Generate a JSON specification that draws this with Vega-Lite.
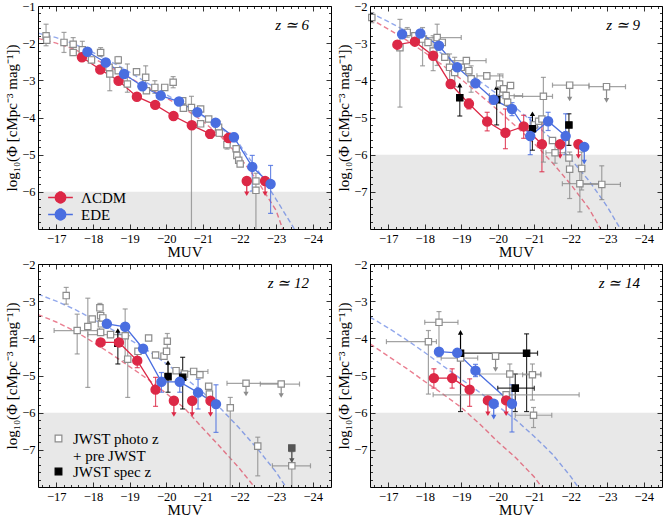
{
"$schema":"https://vega.github.io/schema/vega-lite/v6.json",
"padding":{"left":4,"top":0,"right":0,"bottom":0},
"background":"white",
"datasets":{"d":[
{"p":6,"t":"sh","M":-16.5,"Mhi":-24.5,"v":-6,"vlo":-7},
{"p":6,"t":"f","k":"R","M":-16.5,"v":-1.87},{"p":6,"t":"f","k":"R","M":-17,"v":-2.0},{"p":6,"t":"f","k":"R","M":-17.5,"v":-2.17},{"p":6,"t":"f","k":"R","M":-18,"v":-2.4},{"p":6,"t":"f","k":"R","M":-18.5,"v":-2.66},{"p":6,"t":"f","k":"R","M":-19,"v":-2.93},{"p":6,"t":"f","k":"R","M":-19.5,"v":-3.2},{"p":6,"t":"f","k":"R","M":-20,"v":-3.47},{"p":6,"t":"f","k":"R","M":-20.5,"v":-3.76},{"p":6,"t":"f","k":"R","M":-21,"v":-4.1},{"p":6,"t":"f","k":"R","M":-21.5,"v":-4.52},{"p":6,"t":"f","k":"R","M":-22,"v":-5.05},{"p":6,"t":"f","k":"R","M":-22.5,"v":-5.72},{"p":6,"t":"f","k":"R","M":-23,"v":-6.5},{"p":6,"t":"f","k":"R","M":-23.18,"v":-7.0},
{"p":6,"t":"f","k":"B","M":-16.5,"v":-1.73},{"p":6,"t":"f","k":"B","M":-17,"v":-1.85},{"p":6,"t":"f","k":"B","M":-17.5,"v":-2.03},{"p":6,"t":"f","k":"B","M":-18,"v":-2.25},{"p":6,"t":"f","k":"B","M":-18.5,"v":-2.5},{"p":6,"t":"f","k":"B","M":-19,"v":-2.78},{"p":6,"t":"f","k":"B","M":-19.5,"v":-3.08},{"p":6,"t":"f","k":"B","M":-20,"v":-3.38},{"p":6,"t":"f","k":"B","M":-20.5,"v":-3.67},{"p":6,"t":"f","k":"B","M":-21,"v":-3.96},{"p":6,"t":"f","k":"B","M":-21.5,"v":-4.28},{"p":6,"t":"f","k":"B","M":-22,"v":-4.72},{"p":6,"t":"f","k":"B","M":-22.5,"v":-5.42},{"p":6,"t":"f","k":"B","M":-23,"v":-6.2},{"p":6,"t":"f","k":"B","M":-23.5,"v":-7.0},
{"p":6,"t":"p","k":"g","M":-16.72,"v":-1.8,"vlo":-2.07,"vhi":-1.49},
{"p":6,"t":"p","k":"g","M":-16.74,"v":-1.92},
{"p":6,"t":"p","k":"g","M":-17.21,"v":-1.98,"vlo":-2.25,"vhi":-1.71},
{"p":6,"t":"p","k":"g","M":-17.46,"v":-2.03,"vlo":-2.2,"vhi":-1.85},
{"p":6,"t":"p","k":"g","M":-17.46,"v":-2.25},
{"p":6,"t":"p","k":"g","M":-17.71,"v":-2.18,"vlo":-2.4,"vhi":-1.95},
{"p":6,"t":"p","k":"g","M":-17.96,"v":-2.45},
{"p":6,"t":"p","k":"g","M":-18.21,"v":-2.25,"vlo":-2.35,"vhi":-2.12},
{"p":6,"t":"p","k":"g","M":-18.44,"v":-2.65},
{"p":6,"t":"p","k":"g","M":-18.46,"v":-2.83,"vlo":-3.28,"vhi":-2.61},
{"p":6,"t":"p","k":"g","M":-18.69,"v":-2.45,"vlo":-2.55,"vhi":-2.36},
{"p":6,"t":"p","k":"g","M":-18.69,"v":-2.74},
{"p":6,"t":"p","k":"g","M":-18.94,"v":-3.1,"vlo":-3.32,"vhi":-2.56},
{"p":6,"t":"p","k":"g","M":-19.19,"v":-2.77},
{"p":6,"t":"p","k":"g","M":-19.44,"v":-2.92,"vlo":-3.28,"vhi":-2.61},
{"p":6,"t":"p","k":"g","M":-19.46,"v":-3.28},
{"p":6,"t":"p","k":"g","M":-19.69,"v":-3.19,"vlo":-3.35,"vhi":-3.01},
{"p":6,"t":"p","k":"g","M":-19.96,"v":-3.19},
{"p":6,"t":"p","k":"g","M":-20.19,"v":-3.05,"vlo":-3.2,"vhi":-2.9},
{"p":6,"t":"p","k":"g","M":-20.45,"v":-3.55},
{"p":6,"t":"p","k":"g","M":-20.47,"v":-3.75},
{"p":6,"t":"p","k":"g","M":-20.69,"v":-3.73,"vlo":-9,"vhi":-3.43},
{"p":6,"t":"p","k":"g","M":-20.94,"v":-3.77},
{"p":6,"t":"p","k":"g","M":-20.94,"v":-4.17},
{"p":6,"t":"p","k":"g","M":-21.16,"v":-4.04},
{"p":6,"t":"p","k":"g","M":-21.43,"v":-4.26,"vlo":-4.5,"vhi":-4.1},
{"p":6,"t":"p","k":"g","M":-21.45,"v":-4.42},
{"p":6,"t":"p","k":"g","M":-21.66,"v":-4.73,"vlo":-4.85,"vhi":-4.6},
{"p":6,"t":"p","k":"g","M":-21.91,"v":-4.84},
{"p":6,"t":"p","k":"g","M":-21.93,"v":-5.02},
{"p":6,"t":"p","k":"g","M":-21.98,"v":-5.15},
{"p":6,"t":"p","k":"g","M":-22.02,"v":-5.25},
{"p":6,"t":"p","k":"g","M":-22.45,"v":-5.71,"vlo":-9,"vhi":-5.5},
{"p":6,"t":"p","k":"g","M":-22.45,"v":-5.96},
{"p":6,"t":"p","k":"R","M":-17.7,"v":-2.38,"vlo":-2.45,"vhi":-2.31},
{"p":6,"t":"p","k":"R","M":-18.2,"v":-2.71,"vlo":-2.78,"vhi":-2.64},
{"p":6,"t":"p","k":"R","M":-18.7,"v":-3.01,"vlo":-3.08,"vhi":-2.94},
{"p":6,"t":"p","k":"R","M":-19.2,"v":-3.44,"vlo":-3.51,"vhi":-3.37},
{"p":6,"t":"p","k":"R","M":-19.7,"v":-3.66,"vlo":-3.74,"vhi":-3.58},
{"p":6,"t":"p","k":"R","M":-20.2,"v":-3.96,"vlo":-4.04,"vhi":-3.88},
{"p":6,"t":"p","k":"R","M":-20.7,"v":-4.21,"vlo":-4.3,"vhi":-4.12},
{"p":6,"t":"p","k":"R","M":-21.2,"v":-4.44,"vlo":-4.56,"vhi":-4.33},
{"p":6,"t":"p","k":"R","M":-21.7,"v":-4.55,"vlo":-4.7,"vhi":-4.42},
{"p":6,"t":"p","k":"R","M":-22.2,"v":-5.71,"lim":"u","ae":-6.05},
{"p":6,"t":"p","k":"R","M":-22.7,"v":-5.71,"lim":"u","ae":-6.05},
{"p":6,"t":"p","k":"B","M":-17.85,"v":-2.23,"vlo":-2.3,"vhi":-2.16},
{"p":6,"t":"p","k":"B","M":-18.35,"v":-2.52,"vlo":-2.59,"vhi":-2.45},
{"p":6,"t":"p","k":"B","M":-18.85,"v":-2.83,"vlo":-2.9,"vhi":-2.76},
{"p":6,"t":"p","k":"B","M":-19.35,"v":-3.16,"vlo":-3.23,"vhi":-3.09},
{"p":6,"t":"p","k":"B","M":-19.85,"v":-3.41,"vlo":-3.48,"vhi":-3.34},
{"p":6,"t":"p","k":"B","M":-20.35,"v":-3.57,"vlo":-3.64,"vhi":-3.5},
{"p":6,"t":"p","k":"B","M":-20.85,"v":-3.86,"vlo":-3.93,"vhi":-3.79},
{"p":6,"t":"p","k":"B","M":-21.35,"v":-4.14,"vlo":-4.22,"vhi":-4.06},
{"p":6,"t":"p","k":"B","M":-21.85,"v":-4.53,"vlo":-4.65,"vhi":-4.42},
{"p":6,"t":"p","k":"B","M":-22.35,"v":-5.33,"vlo":-5.98,"vhi":-5.02},
{"p":6,"t":"p","k":"B","M":-22.85,"v":-5.79,"vlo":-6.58,"vhi":-5.29},

{"p":9,"t":"sh","M":-16.5,"Mhi":-24.5,"v":-6,"vlo":-8},
{"p":9,"t":"f","k":"R","M":-16.5,"v":-2.34},{"p":9,"t":"f","k":"R","M":-17,"v":-2.62},{"p":9,"t":"f","k":"R","M":-17.5,"v":-2.92},{"p":9,"t":"f","k":"R","M":-18,"v":-3.25},{"p":9,"t":"f","k":"R","M":-18.5,"v":-3.6},{"p":9,"t":"f","k":"R","M":-19,"v":-3.97},{"p":9,"t":"f","k":"R","M":-19.5,"v":-4.38},{"p":9,"t":"f","k":"R","M":-20,"v":-4.8},{"p":9,"t":"f","k":"R","M":-20.5,"v":-5.24},{"p":9,"t":"f","k":"R","M":-21,"v":-5.7},{"p":9,"t":"f","k":"R","M":-21.5,"v":-6.22},{"p":9,"t":"f","k":"R","M":-22,"v":-6.8},{"p":9,"t":"f","k":"R","M":-22.5,"v":-7.45},{"p":9,"t":"f","k":"R","M":-22.82,"v":-8.0},
{"p":9,"t":"f","k":"B","M":-16.5,"v":-2.18},{"p":9,"t":"f","k":"B","M":-17,"v":-2.42},{"p":9,"t":"f","k":"B","M":-17.5,"v":-2.68},{"p":9,"t":"f","k":"B","M":-18,"v":-2.98},{"p":9,"t":"f","k":"B","M":-18.5,"v":-3.3},{"p":9,"t":"f","k":"B","M":-19,"v":-3.65},{"p":9,"t":"f","k":"B","M":-19.5,"v":-4.02},{"p":9,"t":"f","k":"B","M":-20,"v":-4.38},{"p":9,"t":"f","k":"B","M":-20.5,"v":-4.75},{"p":9,"t":"f","k":"B","M":-21,"v":-5.15},{"p":9,"t":"f","k":"B","M":-21.5,"v":-5.6},{"p":9,"t":"f","k":"B","M":-22,"v":-6.12},{"p":9,"t":"f","k":"B","M":-22.5,"v":-6.7},{"p":9,"t":"f","k":"B","M":-23,"v":-7.4},{"p":9,"t":"f","k":"B","M":-23.36,"v":-8.0},
{"p":9,"t":"p","k":"g","M":-16.55,"v":-2.31,"vlo":-2.45,"vhi":-2.18},
{"p":9,"t":"p","k":"g","M":-17.32,"v":-3.12,"vlo":-4.72,"vhi":-2.36},
{"p":9,"t":"p","k":"g","M":-17.52,"v":-2.71,"vlo":-2.84,"vhi":-2.58},
{"p":9,"t":"p","k":"g","M":-17.73,"v":-2.8},
{"p":9,"t":"p","k":"g","M":-17.94,"v":-2.89,"vlo":-3.61,"vhi":-2.58},
{"p":9,"t":"p","k":"g","M":-18.09,"v":-2.98},
{"p":9,"t":"p","k":"g","M":-18.23,"v":-3.21,"vlo":-3.74,"vhi":-2.8},
{"p":9,"t":"p","k":"g","M":-18.34,"v":-2.85,"vlo":-3.6,"vhi":-2.49,"Mlo":-18.05,"Mhi":-19.0},
{"p":9,"t":"p","k":"g","M":-18.48,"v":-2.98},
{"p":9,"t":"p","k":"g","M":-18.55,"v":-3.38},
{"p":9,"t":"p","k":"g","M":-18.68,"v":-3.65,"vlo":-4.03,"vhi":-3.29},
{"p":9,"t":"p","k":"g","M":-18.82,"v":-3.79,"vlo":-4.17,"vhi":-3.38},
{"p":9,"t":"p","k":"g","M":-19.0,"v":-3.65},
{"p":9,"t":"p","k":"g","M":-19.14,"v":-3.47,"Mlo":-18.68,"Mhi":-19.68},
{"p":9,"t":"p","k":"g","M":-19.21,"v":-3.74},
{"p":9,"t":"p","k":"g","M":-19.27,"v":-3.96,"vlo":-4.32,"vhi":-3.61},
{"p":9,"t":"p","k":"g","M":-19.7,"v":-3.88,"Mlo":-19.43,"Mhi":-20.14},
{"p":9,"t":"p","k":"g","M":-20.05,"v":-4.1,"vlo":-4.41,"vhi":-3.83},
{"p":9,"t":"p","k":"g","M":-20.16,"v":-4.23},
{"p":9,"t":"p","k":"g","M":-20.23,"v":-4.41,"Mlo":-19.77,"Mhi":-20.68},
{"p":9,"t":"p","k":"g","M":-20.27,"v":-4.59},
{"p":9,"t":"p","k":"g","M":-20.35,"v":-4.14},
{"p":9,"t":"p","k":"g","M":-21.25,"v":-4.43,"vlo":-6.2,"vhi":-3.92,"Mlo":-20.45,"Mhi":-21.5},
{"p":9,"t":"p","k":"g","M":-21.0,"v":-5.2},
{"p":9,"t":"p","k":"g","M":-21.12,"v":-5.1},
{"p":9,"t":"p","k":"g","M":-21.21,"v":-5.04},
{"p":9,"t":"p","k":"g","M":-21.5,"v":-5.62},
{"p":9,"t":"p","k":"g","M":-21.57,"v":-5.95,"vlo":-6.23,"vhi":-5.66,"Mlo":-21.32,"Mhi":-21.86},
{"p":9,"t":"p","k":"g","M":-21.95,"v":-6.09},
{"p":9,"t":"p","k":"g","M":-21.97,"v":-6.39,"vlo":-7.18,"vhi":-5.93},
{"p":9,"t":"p","k":"g","M":-22.25,"v":-6.78,"vlo":-7.54,"vhi":-6.29,"Mlo":-21.77,"Mhi":-22.86},
{"p":9,"t":"p","k":"g","M":-22.3,"v":-6.37,"vlo":-6.95,"vhi":-5.93},
{"p":9,"t":"p","k":"g","M":-22.85,"v":-6.8,"vlo":-7.21,"vhi":-6.3,"Mlo":-22.27,"Mhi":-23.36},
{"p":9,"t":"p","k":"g","M":-21.97,"v":-4.13,"Mlo":-21.5,"Mhi":-22.5,"lim":"u","ae":-4.5},
{"p":9,"t":"p","k":"g","M":-22.98,"v":-4.17,"Mlo":-22.5,"Mhi":-23.5,"lim":"u","ae":-4.54},
{"p":9,"t":"p","k":"s","M":-18.96,"v":-4.47,"vlo":-4.96,"vhi":-4.47,"lim":"l","ae":-4.13},
{"p":9,"t":"p","k":"s","M":-19.97,"v":-4.52,"vlo":-5.2,"vhi":-4.52,"lim":"l","ae":-4.19},
{"p":9,"t":"p","k":"s","M":-20.95,"v":-5.3,"vlo":-5.88,"vhi":-5.3,"lim":"l","ae":-4.9},
{"p":9,"t":"p","k":"s","M":-21.95,"v":-5.2,"vlo":-5.75,"vhi":-4.9},
{"p":9,"t":"p","k":"R","M":-17.25,"v":-3.04,"vlo":-3.14,"vhi":-2.94},
{"p":9,"t":"p","k":"R","M":-17.73,"v":-2.96,"vlo":-3.04,"vhi":-2.88},
{"p":9,"t":"p","k":"R","M":-18.23,"v":-3.34,"vlo":-3.44,"vhi":-3.24},
{"p":9,"t":"p","k":"R","M":-18.71,"v":-4.1,"vlo":-4.18,"vhi":-4.02},
{"p":9,"t":"p","k":"R","M":-19.21,"v":-4.63,"vlo":-4.77,"vhi":-4.5},
{"p":9,"t":"p","k":"R","M":-19.71,"v":-5.11,"vlo":-5.36,"vhi":-4.86},
{"p":9,"t":"p","k":"R","M":-20.21,"v":-5.41,"vlo":-5.84,"vhi":-4.77},
{"p":9,"t":"p","k":"R","M":-20.71,"v":-5.24,"vlo":-5.56,"vhi":-4.94},
{"p":9,"t":"p","k":"R","M":-21.21,"v":-5.72,"vlo":-6.46,"vhi":-5.04},
{"p":9,"t":"p","k":"R","M":-21.71,"v":-5.72,"lim":"u","ae":-6.05},
{"p":9,"t":"p","k":"R","M":-22.21,"v":-5.72,"lim":"u","ae":-6.05},
{"p":9,"t":"p","k":"B","M":-17.38,"v":-2.76,"vlo":-2.83,"vhi":-2.69},
{"p":9,"t":"p","k":"B","M":-17.88,"v":-2.74,"vlo":-2.81,"vhi":-2.67},
{"p":9,"t":"p","k":"B","M":-18.39,"v":-3.07,"vlo":-3.14,"vhi":-3.0},
{"p":9,"t":"p","k":"B","M":-18.89,"v":-3.65,"vlo":-3.72,"vhi":-3.58},
{"p":9,"t":"p","k":"B","M":-19.39,"v":-4.08,"vlo":-4.16,"vhi":-4.0},
{"p":9,"t":"p","k":"B","M":-19.89,"v":-4.52,"vlo":-4.64,"vhi":-4.41},
{"p":9,"t":"p","k":"B","M":-20.39,"v":-4.77,"vlo":-4.95,"vhi":-4.6},
{"p":9,"t":"p","k":"B","M":-20.89,"v":-5.5,"vlo":-6.0,"vhi":-5.0},
{"p":9,"t":"p","k":"B","M":-21.38,"v":-5.1,"vlo":-5.35,"vhi":-4.86},
{"p":9,"t":"p","k":"B","M":-21.86,"v":-5.5,"vlo":-6.0,"vhi":-4.9},
{"p":9,"t":"p","k":"B","M":-22.37,"v":-5.79,"lim":"u","ae":-6.2},

{"p":12,"t":"sh","M":-16.5,"Mhi":-24.5,"v":-6,"vlo":-8},
{"p":12,"t":"f","k":"R","M":-16.5,"v":-3.36},{"p":12,"t":"f","k":"R","M":-17,"v":-3.56},{"p":12,"t":"f","k":"R","M":-17.5,"v":-3.8},{"p":12,"t":"f","k":"R","M":-18,"v":-4.1},{"p":12,"t":"f","k":"R","M":-18.5,"v":-4.42},{"p":12,"t":"f","k":"R","M":-19,"v":-4.76},{"p":12,"t":"f","k":"R","M":-19.5,"v":-5.1},{"p":12,"t":"f","k":"R","M":-20,"v":-5.48},{"p":12,"t":"f","k":"R","M":-20.5,"v":-5.88},{"p":12,"t":"f","k":"R","M":-21,"v":-6.42},{"p":12,"t":"f","k":"R","M":-21.5,"v":-6.95},{"p":12,"t":"f","k":"R","M":-22,"v":-7.5},{"p":12,"t":"f","k":"R","M":-22.41,"v":-8.0},
{"p":12,"t":"f","k":"B","M":-16.5,"v":-2.81},{"p":12,"t":"f","k":"B","M":-17,"v":-3.0},{"p":12,"t":"f","k":"B","M":-17.5,"v":-3.22},{"p":12,"t":"f","k":"B","M":-18,"v":-3.48},{"p":12,"t":"f","k":"B","M":-18.5,"v":-3.75},{"p":12,"t":"f","k":"B","M":-19,"v":-4.03},{"p":12,"t":"f","k":"B","M":-19.5,"v":-4.33},{"p":12,"t":"f","k":"B","M":-20,"v":-4.68},{"p":12,"t":"f","k":"B","M":-20.5,"v":-5.05},{"p":12,"t":"f","k":"B","M":-21,"v":-5.45},{"p":12,"t":"f","k":"B","M":-21.5,"v":-5.9},{"p":12,"t":"f","k":"B","M":-22,"v":-6.42},{"p":12,"t":"f","k":"B","M":-22.5,"v":-6.98},{"p":12,"t":"f","k":"B","M":-23,"v":-7.6},{"p":12,"t":"f","k":"B","M":-23.27,"v":-8.0},
{"p":12,"t":"p","k":"g","M":-17.27,"v":-2.85,"vlo":-3.08,"vhi":-2.63},
{"p":12,"t":"p","k":"g","M":-17.57,"v":-3.79,"vlo":-4.42,"vhi":-3.35,"Mlo":-16.94,"Mhi":-18.18},
{"p":12,"t":"p","k":"g","M":-17.86,"v":-3.68,"vlo":-5.32,"vhi":-2.92},
{"p":12,"t":"p","k":"g","M":-17.98,"v":-3.48},
{"p":12,"t":"p","k":"g","M":-18.19,"v":-3.18,"vlo":-3.3,"vhi":-3.06},
{"p":12,"t":"p","k":"g","M":-18.21,"v":-3.39},
{"p":12,"t":"p","k":"g","M":-18.23,"v":-3.61},
{"p":12,"t":"p","k":"g","M":-18.27,"v":-3.45},
{"p":12,"t":"p","k":"g","M":-18.21,"v":-3.84},
{"p":12,"t":"p","k":"g","M":-18.48,"v":-3.9,"Mlo":-17.86,"Mhi":-18.86},
{"p":12,"t":"p","k":"g","M":-18.88,"v":-3.93,"vlo":-4.6,"vhi":-3.21},
{"p":12,"t":"p","k":"g","M":-18.95,"v":-4.56,"vlo":-5.59,"vhi":-3.93},
{"p":12,"t":"p","k":"g","M":-19.23,"v":-4.35},
{"p":12,"t":"p","k":"g","M":-19.52,"v":-3.99},
{"p":12,"t":"p","k":"g","M":-19.71,"v":-4.45},
{"p":12,"t":"p","k":"g","M":-19.94,"v":-4.48},
{"p":12,"t":"p","k":"g","M":-20.03,"v":-4.08,"vlo":-4.42,"vhi":-3.87},
{"p":12,"t":"p","k":"g","M":-20.01,"v":-4.35},
{"p":12,"t":"p","k":"g","M":-20.27,"v":-4.87},
{"p":12,"t":"p","k":"g","M":-20.5,"v":-4.96},
{"p":12,"t":"p","k":"g","M":-20.75,"v":-4.89,"Mlo":-20.41,"Mhi":-21.14},
{"p":12,"t":"p","k":"g","M":-20.92,"v":-4.98},
{"p":12,"t":"p","k":"g","M":-21.16,"v":-5.29},
{"p":12,"t":"p","k":"g","M":-21.18,"v":-5.5},
{"p":12,"t":"p","k":"g","M":-21.75,"v":-5.87,"vlo":-9,"vhi":-5.59},
{"p":12,"t":"p","k":"g","M":-22.5,"v":-6.9,"vlo":-7.7,"vhi":-6.66},
{"p":12,"t":"p","k":"g","M":-22.18,"v":-5.21,"Mlo":-21.66,"Mhi":-23.2,"lim":"u","ae":-5.5},
{"p":12,"t":"p","k":"g","M":-23.14,"v":-5.23,"Mlo":-22.57,"Mhi":-23.64,"lim":"u","ae":-5.54},
{"p":12,"t":"p","k":"g","M":-23.43,"v":-7.43,"vlo":-9,"vhi":-7.05,"Mlo":-22.9,"Mhi":-23.94},
{"p":12,"t":"p","k":"gd","M":-23.43,"v":-6.95,"lim":"u","ae":-7.29},
{"p":12,"t":"p","k":"s","M":-18.68,"v":-4.13,"vlo":-4.69,"vhi":-4.13,"lim":"l","ae":-3.79},
{"p":12,"t":"p","k":"s","M":-20.05,"v":-5.03,"vlo":-5.45,"vhi":-5.03,"lim":"l","ae":-4.65},
{"p":12,"t":"p","k":"s","M":-20.45,"v":-5.05,"vlo":-5.9,"vhi":-4.51},
{"p":12,"t":"p","k":"R","M":-18.21,"v":-4.11,"vlo":-4.19,"vhi":-4.03},
{"p":12,"t":"p","k":"R","M":-18.71,"v":-4.11,"vlo":-4.21,"vhi":-4.01},
{"p":12,"t":"p","k":"R","M":-19.21,"v":-4.6,"vlo":-4.79,"vhi":-4.42},
{"p":12,"t":"p","k":"R","M":-19.71,"v":-5.38,"vlo":-5.83,"vhi":-5.05},
{"p":12,"t":"p","k":"R","M":-20.21,"v":-5.68,"lim":"u","ae":-6.05},
{"p":12,"t":"p","k":"R","M":-20.71,"v":-5.68,"lim":"u","ae":-6.05},
{"p":12,"t":"p","k":"R","M":-21.21,"v":-5.68,"lim":"u","ae":-6.05},
{"p":12,"t":"p","k":"B","M":-18.38,"v":-3.61,"vlo":-3.68,"vhi":-3.54},
{"p":12,"t":"p","k":"B","M":-18.88,"v":-3.69,"vlo":-3.76,"vhi":-3.62},
{"p":12,"t":"p","k":"B","M":-19.37,"v":-4.28,"vlo":-4.35,"vhi":-4.21},
{"p":12,"t":"p","k":"B","M":-19.87,"v":-5.17,"vlo":-5.45,"vhi":-4.92},
{"p":12,"t":"p","k":"B","M":-20.37,"v":-5.17,"vlo":-5.45,"vhi":-4.92},
{"p":12,"t":"p","k":"B","M":-20.87,"v":-5.46,"vlo":-5.9,"vhi":-5.1},
{"p":12,"t":"p","k":"B","M":-21.36,"v":-5.77,"vlo":-6.53,"vhi":-5.25},

{"p":14,"t":"sh","M":-16.5,"Mhi":-24.5,"v":-6,"vlo":-8},
{"p":14,"t":"f","k":"R","M":-16.5,"v":-4.15},{"p":14,"t":"f","k":"R","M":-17,"v":-4.48},{"p":14,"t":"f","k":"R","M":-17.5,"v":-4.81},{"p":14,"t":"f","k":"R","M":-18,"v":-5.16},{"p":14,"t":"f","k":"R","M":-18.5,"v":-5.5},{"p":14,"t":"f","k":"R","M":-19,"v":-5.86},{"p":14,"t":"f","k":"R","M":-19.5,"v":-6.3},{"p":14,"t":"f","k":"R","M":-20,"v":-6.78},{"p":14,"t":"f","k":"R","M":-20.5,"v":-7.22},{"p":14,"t":"f","k":"R","M":-21,"v":-7.73},{"p":14,"t":"f","k":"R","M":-21.2,"v":-8.0},
{"p":14,"t":"f","k":"B","M":-16.5,"v":-3.43},{"p":14,"t":"f","k":"B","M":-17,"v":-3.72},{"p":14,"t":"f","k":"B","M":-17.5,"v":-4.04},{"p":14,"t":"f","k":"B","M":-18,"v":-4.38},{"p":14,"t":"f","k":"B","M":-18.5,"v":-4.74},{"p":14,"t":"f","k":"B","M":-19,"v":-5.1},{"p":14,"t":"f","k":"B","M":-19.5,"v":-5.45},{"p":14,"t":"f","k":"B","M":-20,"v":-5.82},{"p":14,"t":"f","k":"B","M":-20.5,"v":-6.2},{"p":14,"t":"f","k":"B","M":-21,"v":-6.64},{"p":14,"t":"f","k":"B","M":-21.5,"v":-7.12},{"p":14,"t":"f","k":"B","M":-22,"v":-7.72},{"p":14,"t":"f","k":"B","M":-22.2,"v":-8.0},
{"p":14,"t":"p","k":"g","M":-18.1,"v":-4.09,"vlo":-5.5,"vhi":-3.79,"Mlo":-16.95,"Mhi":-18.32},
{"p":14,"t":"p","k":"g","M":-18.39,"v":-3.57,"vlo":-4.5,"vhi":-3.28,"Mlo":-18.0,"Mhi":-18.91},
{"p":14,"t":"p","k":"g","M":-18.98,"v":-4.53,"Mlo":-18.45,"Mhi":-19.45},
{"p":14,"t":"p","k":"g","M":-19.94,"v":-4.48,"lim":"u","ae":-4.84},
{"p":14,"t":"p","k":"g","M":-20.33,"v":-4.96,"vlo":-5.63,"vhi":-4.69,"Mlo":-19.5,"Mhi":-21.18},
{"p":14,"t":"p","k":"g","M":-20.95,"v":-4.98,"vlo":-5.66,"vhi":-4.69,"Mlo":-20.68,"Mhi":-21.18},
{"p":14,"t":"p","k":"g","M":-20.23,"v":-5.52,"Mlo":-18.23,"Mhi":-22.23},
{"p":14,"t":"p","k":"g","M":-20.98,"v":-6.07,"vlo":-6.4,"vhi":-5.86,"Mlo":-20.48,"Mhi":-21.48},
{"p":14,"t":"p","k":"s","M":-18.98,"v":-4.4,"vlo":-5.97,"vhi":-4.4,"lim":"l","ae":-3.84},
{"p":14,"t":"p","k":"s","M":-20.79,"v":-4.4,"vlo":-5.97,"vhi":-3.88,"Mlo":-19.0,"Mhi":-21.09},
{"p":14,"t":"p","k":"s","M":-20.48,"v":-5.34,"vlo":-5.97,"vhi":-4.96,"Mlo":-20.0,"Mhi":-21.0},
{"p":14,"t":"p","k":"R","M":-18.25,"v":-5.07,"vlo":-5.34,"vhi":-4.82},
{"p":14,"t":"p","k":"R","M":-18.75,"v":-5.07,"vlo":-5.34,"vhi":-4.82},
{"p":14,"t":"p","k":"R","M":-19.23,"v":-5.38,"vlo":-5.83,"vhi":-5.09},
{"p":14,"t":"p","k":"R","M":-19.73,"v":-5.67,"lim":"u","ae":-6.03},
{"p":14,"t":"p","k":"R","M":-20.23,"v":-5.67,"lim":"u","ae":-6.03},
{"p":14,"t":"p","k":"B","M":-18.39,"v":-4.36,"vlo":-4.42,"vhi":-4.3},
{"p":14,"t":"p","k":"B","M":-18.89,"v":-4.39,"vlo":-4.45,"vhi":-4.33},
{"p":14,"t":"p","k":"B","M":-19.39,"v":-4.87,"vlo":-5.03,"vhi":-4.7},
{"p":14,"t":"p","k":"B","M":-19.89,"v":-5.76,"lim":"u","ae":-6.12},
{"p":14,"t":"p","k":"B","M":-20.39,"v":-5.76,"vlo":-6.52,"vhi":-5.25}
]},
"data":{"name":"d"},
"columns":2,
"spacing":{"row":35,"column":39},
"bounds":"flush",
"concat":[
{"width":293,"height":223,
"title":{"text":"z ≃ 6","anchor":"end","frame":"group","offset":-45,"dx":-22,"baseline":"alphabetic","fontSize":15,"fontStyle":"italic","fontWeight":"normal","color":"#000"},
"transform":[{"filter":"datum.p==6"}],
"resolve":{"axis":{"x":"independent","y":"independent"},"scale":{"fill":"independent","stroke":"independent"}},
"layer":[
{"transform":[{"filter":"datum.t=='sh'"}],"mark":{"type":"rect","color":"#e8e8e8"},
"encoding":{"x":{"field":"M","type":"quantitative","scale":{"domain":[-16.5,-24.5],"nice":false,"zero":false},"axis":{"orient":"top","values":[-16.6,-16.8,-17,-17.2,-17.4,-17.6,-17.8,-18,-18.2,-18.4,-18.6,-18.8,-19,-19.2,-19.4,-19.6,-19.8,-20,-20.2,-20.4,-20.6,-20.8,-21,-21.2,-21.4,-21.6,-21.8,-22,-22.2,-22.4,-22.6,-22.8,-23,-23.2,-23.4,-23.6,-23.8,-24,-24.2,-24.4],"labels":false,"title":null,"tickSize":{"condition":{"test":"abs(datum.value-round(datum.value))<0.01","value":-5},"value":-2.5},"zindex":1}},"x2":{"field":"Mhi"},
"y":{"field":"v","type":"quantitative","scale":{"domain":[-7,-1],"nice":false,"zero":false},"axis":{"orient":"right","values":[-1,-1.2,-1.4,-1.6,-1.8,-2,-2.2,-2.4,-2.6,-2.8,-3,-3.2,-3.4,-3.6,-3.8,-4,-4.2,-4.4,-4.6,-4.8,-5,-5.2,-5.4,-5.6,-5.8,-6,-6.2,-6.4,-6.6,-6.8],"labels":false,"title":null,"tickSize":{"condition":{"test":"abs(datum.value-round(datum.value))<0.01","value":-5},"value":-2.5},"zindex":1}},"y2":{"field":"vlo"}}},
{"transform":[{"filter":"datum.t=='f'"}],"mark":{"type":"line","strokeDash":[5,3],"strokeWidth":1.4,"opacity":0.6,"clip":true},
"encoding":{"x":{"field":"M","type":"quantitative","scale":{"domain":[-16.5,-24.5],"nice":false,"zero":false},"axis":{"orient":"bottom","values":[-16.6,-16.8,-17,-17.2,-17.4,-17.6,-17.8,-18,-18.2,-18.4,-18.6,-18.8,-19,-19.2,-19.4,-19.6,-19.8,-20,-20.2,-20.4,-20.6,-20.8,-21,-21.2,-21.4,-21.6,-21.8,-22,-22.2,-22.4,-22.6,-22.8,-23,-23.2,-23.4,-23.6,-23.8,-24,-24.2,-24.4],"labelExpr":"abs(datum.value-round(datum.value))<0.01 ? format(round(datum.value),'d') : ''","title":"MUV","titlePadding":-3,"tickSize":{"condition":{"test":"abs(datum.value-round(datum.value))<0.01","value":-5},"value":-2.5},"zindex":1}},
"y":{"field":"v","type":"quantitative","scale":{"domain":[-7,-1],"nice":false,"zero":false},"axis":{"orient":"left","values":[-1,-1.2,-1.4,-1.6,-1.8,-2,-2.2,-2.4,-2.6,-2.8,-3,-3.2,-3.4,-3.6,-3.8,-4,-4.2,-4.4,-4.6,-4.8,-5,-5.2,-5.4,-5.6,-5.8,-6,-6.2,-6.4,-6.6,-6.8],"labelExpr":"abs(datum.value-round(datum.value))<0.01 ? format(round(datum.value),'d') : ''","title":"log₁₀(Φ [cMpc⁻³ mag⁻¹])","tickSize":{"condition":{"test":"abs(datum.value-round(datum.value))<0.01","value":-5},"value":-2.5},"zindex":1}},
"color":{"field":"k","type":"nominal","scale":{"domain":["g","s","gd","R","B"],"range":["#8c8c8c","#000000","#555555","#dc2846","#4a6ee0"]},"legend":null}}},
{"transform":[{"filter":"datum.t=='p' && isValid(datum.vlo)"}],"mark":{"type":"rule","strokeWidth":1.2,"opacity":0.8,"clip":true},
"encoding":{"x":{"field":"M","type":"quantitative","axis":null},"y":{"field":"vlo","type":"quantitative","axis":null},"y2":{"field":"vhi"},"color":{"field":"k","type":"nominal","scale":{"domain":["g","s","gd","R","B"],"range":["#8c8c8c","#000000","#555555","#dc2846","#4a6ee0"]},"legend":null}}},
{"transform":[{"filter":"datum.t=='p' && isValid(datum.vlo)"},{"fold":["vlo","vhi"],"as":["ck","cv"]}],"mark":{"type":"tick","orient":"horizontal","size":5,"thickness":1.2,"opacity":0.8,"clip":true},
"encoding":{"x":{"field":"M","type":"quantitative","axis":null},"y":{"field":"cv","type":"quantitative","axis":null},"color":{"field":"k","type":"nominal","scale":{"domain":["g","s","gd","R","B"],"range":["#8c8c8c","#000000","#555555","#dc2846","#4a6ee0"]},"legend":null}}},
{"transform":[{"filter":"datum.t=='p' && isValid(datum.Mlo)"}],"mark":{"type":"rule","strokeWidth":1.2,"opacity":0.8,"clip":true},
"encoding":{"x":{"field":"Mlo","type":"quantitative","axis":null},"x2":{"field":"Mhi"},"y":{"field":"v","type":"quantitative","axis":null},"color":{"field":"k","type":"nominal","scale":{"domain":["g","s","gd","R","B"],"range":["#8c8c8c","#000000","#555555","#dc2846","#4a6ee0"]},"legend":null}}},
{"transform":[{"filter":"datum.t=='p' && isValid(datum.Mlo)"},{"fold":["Mlo","Mhi"],"as":["ck","cv"]}],"mark":{"type":"tick","orient":"vertical","size":5,"thickness":1.2,"opacity":0.8,"clip":true},
"encoding":{"x":{"field":"cv","type":"quantitative","axis":null},"y":{"field":"v","type":"quantitative","axis":null},"color":{"field":"k","type":"nominal","scale":{"domain":["g","s","gd","R","B"],"range":["#8c8c8c","#000000","#555555","#dc2846","#4a6ee0"]},"legend":null}}},
{"transform":[{"filter":"datum.t=='p' && isValid(datum.ae)"}],"mark":{"type":"rule","strokeWidth":1.2,"clip":true},
"encoding":{"x":{"field":"M","type":"quantitative","axis":null},"y":{"field":"v","type":"quantitative","axis":null},"y2":{"field":"ae"},"color":{"field":"k","type":"nominal","scale":{"domain":["g","s","gd","R","B"],"range":["#8c8c8c","#000000","#555555","#dc2846","#4a6ee0"]},"legend":null}}},
{"transform":[{"filter":"datum.t=='p' && isValid(datum.ae)"}],"mark":{"type":"point","filled":true,"size":28,"opacity":1,"clip":true},
"encoding":{"x":{"field":"M","type":"quantitative","axis":null},"y":{"field":"ae","type":"quantitative","axis":null},"color":{"field":"k","type":"nominal","scale":{"domain":["g","s","gd","R","B"],"range":["#8c8c8c","#000000","#555555","#dc2846","#4a6ee0"]},"legend":null},"shape":{"field":"lim","type":"nominal","scale":{"domain":["u","l"],"range":["triangle-down","triangle-up"]},"legend":null}}},
{"transform":[{"filter":"datum.t=='p' && (datum.k=='R'||datum.k=='B') && !isValid(datum.lim)"}],"mark":{"type":"line","strokeWidth":1.3},
"encoding":{"x":{"field":"M","type":"quantitative","axis":null},"y":{"field":"v","type":"quantitative","axis":null},"color":{"field":"k","type":"nominal","scale":{"domain":["g","s","gd","R","B"],"range":["#8c8c8c","#000000","#555555","#dc2846","#4a6ee0"]},"legend":null}}},
{"transform":[{"filter":"datum.t=='p' && (datum.k=='g'||datum.k=='s'||datum.k=='gd')"}],"mark":{"type":"point","shape":"square","filled":true,"size":40,"strokeWidth":1.2,"opacity":1},
"encoding":{"x":{"field":"M","type":"quantitative","axis":null},"y":{"field":"v","type":"quantitative","axis":null},"fill":{"field":"k","type":"nominal","scale":{"domain":["g","s","gd"],"range":["#ffffff","#000000","#555555"]},"legend":null},"stroke":{"field":"k","type":"nominal","scale":{"domain":["g","s","gd"],"range":["#8c8c8c","#000000","#555555"]},"legend":null}}},
{"transform":[{"filter":"datum.t=='p' && (datum.k=='R'||datum.k=='B')"}],"mark":{"type":"point","shape":"circle","filled":true,"size":80,"strokeWidth":1.5,"opacity":1},
"encoding":{"x":{"field":"M","type":"quantitative","axis":null},"y":{"field":"v","type":"quantitative","axis":null},
"fill":{"field":"k","type":"nominal","scale":{"domain":["R","B"],"range":["#dc2846","#4a6ee0"]},"legend":{"title":null,"orient":"none","legendX":15,"legendY":184,"padding":0,"symbolType":"M-1.9,0H1.9M0,-0.85V0.85M-0.28,-0.85H0.28M-0.28,0.85H0.28M0.8,0A0.8,0.8,0,1,1,-0.8,0A0.8,0.8,0,1,1,0.8,0Z","symbolSize":169,"symbolStrokeWidth":1.5,"labelExpr":"datum.value=='R' ? 'ΛCDM' : 'EDE'","labelFontSize":15,"labelOffset":13,"rowPadding":-3}},
"stroke":{"field":"k","type":"nominal","scale":{"domain":["R","B"],"range":["#dc2846","#4a6ee0"]},"legend":{"title":null,"orient":"none","legendX":15,"legendY":184,"padding":0,"symbolType":"M-1.9,0H1.9M0,-0.85V0.85M-0.28,-0.85H0.28M-0.28,0.85H0.28M0.8,0A0.8,0.8,0,1,1,-0.8,0A0.8,0.8,0,1,1,0.8,0Z","symbolSize":169,"symbolStrokeWidth":1.5,"labelExpr":"datum.value=='R' ? 'ΛCDM' : 'EDE'","labelFontSize":15,"labelOffset":13,"rowPadding":-3}}}}
]},
{"width":292,"height":223,
"title":{"text":"z ≃ 9","anchor":"end","frame":"group","offset":-45,"dx":-22,"baseline":"alphabetic","fontSize":15,"fontStyle":"italic","fontWeight":"normal","color":"#000"},
"transform":[{"filter":"datum.p==9"}],
"resolve":{"axis":{"x":"independent","y":"independent"},"scale":{"fill":"independent","stroke":"independent"}},
"layer":[
{"transform":[{"filter":"datum.t=='sh'"}],"mark":{"type":"rect","color":"#e8e8e8"},
"encoding":{"x":{"field":"M","type":"quantitative","scale":{"domain":[-16.5,-24.5],"nice":false,"zero":false},"axis":{"orient":"top","values":[-16.6,-16.8,-17,-17.2,-17.4,-17.6,-17.8,-18,-18.2,-18.4,-18.6,-18.8,-19,-19.2,-19.4,-19.6,-19.8,-20,-20.2,-20.4,-20.6,-20.8,-21,-21.2,-21.4,-21.6,-21.8,-22,-22.2,-22.4,-22.6,-22.8,-23,-23.2,-23.4,-23.6,-23.8,-24,-24.2,-24.4],"labels":false,"title":null,"tickSize":{"condition":{"test":"abs(datum.value-round(datum.value))<0.01","value":-5},"value":-2.5},"zindex":1}},"x2":{"field":"Mhi"},
"y":{"field":"v","type":"quantitative","scale":{"domain":[-8,-2],"nice":false,"zero":false},"axis":{"orient":"right","values":[-2,-2.2,-2.4,-2.6,-2.8,-3,-3.2,-3.4,-3.6,-3.8,-4,-4.2,-4.4,-4.6,-4.8,-5,-5.2,-5.4,-5.6,-5.8,-6,-6.2,-6.4,-6.6,-6.8,-7,-7.2,-7.4,-7.6,-7.8],"labels":false,"title":null,"tickSize":{"condition":{"test":"abs(datum.value-round(datum.value))<0.01","value":-5},"value":-2.5},"zindex":1}},"y2":{"field":"vlo"}}},
{"transform":[{"filter":"datum.t=='f'"}],"mark":{"type":"line","strokeDash":[5,3],"strokeWidth":1.4,"opacity":0.6,"clip":true},
"encoding":{"x":{"field":"M","type":"quantitative","scale":{"domain":[-16.5,-24.5],"nice":false,"zero":false},"axis":{"orient":"bottom","values":[-16.6,-16.8,-17,-17.2,-17.4,-17.6,-17.8,-18,-18.2,-18.4,-18.6,-18.8,-19,-19.2,-19.4,-19.6,-19.8,-20,-20.2,-20.4,-20.6,-20.8,-21,-21.2,-21.4,-21.6,-21.8,-22,-22.2,-22.4,-22.6,-22.8,-23,-23.2,-23.4,-23.6,-23.8,-24,-24.2,-24.4],"labelExpr":"abs(datum.value-round(datum.value))<0.01 ? format(round(datum.value),'d') : ''","title":"MUV","titlePadding":-3,"tickSize":{"condition":{"test":"abs(datum.value-round(datum.value))<0.01","value":-5},"value":-2.5},"zindex":1}},
"y":{"field":"v","type":"quantitative","scale":{"domain":[-8,-2],"nice":false,"zero":false},"axis":{"orient":"left","values":[-2,-2.2,-2.4,-2.6,-2.8,-3,-3.2,-3.4,-3.6,-3.8,-4,-4.2,-4.4,-4.6,-4.8,-5,-5.2,-5.4,-5.6,-5.8,-6,-6.2,-6.4,-6.6,-6.8,-7,-7.2,-7.4,-7.6,-7.8],"labelExpr":"abs(datum.value-round(datum.value))<0.01 ? format(round(datum.value),'d') : ''","title":"log₁₀(Φ [cMpc⁻³ mag⁻¹])","tickSize":{"condition":{"test":"abs(datum.value-round(datum.value))<0.01","value":-5},"value":-2.5},"zindex":1}},
"color":{"field":"k","type":"nominal","scale":{"domain":["g","s","gd","R","B"],"range":["#8c8c8c","#000000","#555555","#dc2846","#4a6ee0"]},"legend":null}}},
{"transform":[{"filter":"datum.t=='p' && isValid(datum.vlo)"}],"mark":{"type":"rule","strokeWidth":1.2,"opacity":0.8,"clip":true},
"encoding":{"x":{"field":"M","type":"quantitative","axis":null},"y":{"field":"vlo","type":"quantitative","axis":null},"y2":{"field":"vhi"},"color":{"field":"k","type":"nominal","scale":{"domain":["g","s","gd","R","B"],"range":["#8c8c8c","#000000","#555555","#dc2846","#4a6ee0"]},"legend":null}}},
{"transform":[{"filter":"datum.t=='p' && isValid(datum.vlo)"},{"fold":["vlo","vhi"],"as":["ck","cv"]}],"mark":{"type":"tick","orient":"horizontal","size":5,"thickness":1.2,"opacity":0.8,"clip":true},
"encoding":{"x":{"field":"M","type":"quantitative","axis":null},"y":{"field":"cv","type":"quantitative","axis":null},"color":{"field":"k","type":"nominal","scale":{"domain":["g","s","gd","R","B"],"range":["#8c8c8c","#000000","#555555","#dc2846","#4a6ee0"]},"legend":null}}},
{"transform":[{"filter":"datum.t=='p' && isValid(datum.Mlo)"}],"mark":{"type":"rule","strokeWidth":1.2,"opacity":0.8,"clip":true},
"encoding":{"x":{"field":"Mlo","type":"quantitative","axis":null},"x2":{"field":"Mhi"},"y":{"field":"v","type":"quantitative","axis":null},"color":{"field":"k","type":"nominal","scale":{"domain":["g","s","gd","R","B"],"range":["#8c8c8c","#000000","#555555","#dc2846","#4a6ee0"]},"legend":null}}},
{"transform":[{"filter":"datum.t=='p' && isValid(datum.Mlo)"},{"fold":["Mlo","Mhi"],"as":["ck","cv"]}],"mark":{"type":"tick","orient":"vertical","size":5,"thickness":1.2,"opacity":0.8,"clip":true},
"encoding":{"x":{"field":"cv","type":"quantitative","axis":null},"y":{"field":"v","type":"quantitative","axis":null},"color":{"field":"k","type":"nominal","scale":{"domain":["g","s","gd","R","B"],"range":["#8c8c8c","#000000","#555555","#dc2846","#4a6ee0"]},"legend":null}}},
{"transform":[{"filter":"datum.t=='p' && isValid(datum.ae)"}],"mark":{"type":"rule","strokeWidth":1.2,"clip":true},
"encoding":{"x":{"field":"M","type":"quantitative","axis":null},"y":{"field":"v","type":"quantitative","axis":null},"y2":{"field":"ae"},"color":{"field":"k","type":"nominal","scale":{"domain":["g","s","gd","R","B"],"range":["#8c8c8c","#000000","#555555","#dc2846","#4a6ee0"]},"legend":null}}},
{"transform":[{"filter":"datum.t=='p' && isValid(datum.ae)"}],"mark":{"type":"point","filled":true,"size":28,"opacity":1,"clip":true},
"encoding":{"x":{"field":"M","type":"quantitative","axis":null},"y":{"field":"ae","type":"quantitative","axis":null},"color":{"field":"k","type":"nominal","scale":{"domain":["g","s","gd","R","B"],"range":["#8c8c8c","#000000","#555555","#dc2846","#4a6ee0"]},"legend":null},"shape":{"field":"lim","type":"nominal","scale":{"domain":["u","l"],"range":["triangle-down","triangle-up"]},"legend":null}}},
{"transform":[{"filter":"datum.t=='p' && (datum.k=='R'||datum.k=='B') && !isValid(datum.lim)"}],"mark":{"type":"line","strokeWidth":1.3},
"encoding":{"x":{"field":"M","type":"quantitative","axis":null},"y":{"field":"v","type":"quantitative","axis":null},"color":{"field":"k","type":"nominal","scale":{"domain":["g","s","gd","R","B"],"range":["#8c8c8c","#000000","#555555","#dc2846","#4a6ee0"]},"legend":null}}},
{"transform":[{"filter":"datum.t=='p' && (datum.k=='g'||datum.k=='s'||datum.k=='gd')"}],"mark":{"type":"point","shape":"square","filled":true,"size":40,"strokeWidth":1.2,"opacity":1},
"encoding":{"x":{"field":"M","type":"quantitative","axis":null},"y":{"field":"v","type":"quantitative","axis":null},"fill":{"field":"k","type":"nominal","scale":{"domain":["g","s","gd"],"range":["#ffffff","#000000","#555555"]},"legend":null},"stroke":{"field":"k","type":"nominal","scale":{"domain":["g","s","gd"],"range":["#8c8c8c","#000000","#555555"]},"legend":null}}},
{"transform":[{"filter":"datum.t=='p' && (datum.k=='R'||datum.k=='B')"}],"mark":{"type":"point","shape":"circle","filled":true,"size":80,"strokeWidth":1.5,"opacity":1},
"encoding":{"x":{"field":"M","type":"quantitative","axis":null},"y":{"field":"v","type":"quantitative","axis":null},
"fill":{"field":"k","type":"nominal","scale":{"domain":["R","B"],"range":["#dc2846","#4a6ee0"]},"legend":null},
"stroke":{"field":"k","type":"nominal","scale":{"domain":["R","B"],"range":["#dc2846","#4a6ee0"]},"legend":null}}}
]},
{"width":293,"height":223,
"title":{"text":"z ≃ 12","anchor":"end","frame":"group","offset":-45,"dx":-22,"baseline":"alphabetic","fontSize":15,"fontStyle":"italic","fontWeight":"normal","color":"#000"},
"transform":[{"filter":"datum.p==12"}],
"resolve":{"axis":{"x":"independent","y":"independent"},"scale":{"fill":"independent","stroke":"independent"}},
"layer":[
{"transform":[{"filter":"datum.t=='sh'"}],"mark":{"type":"rect","color":"#e8e8e8"},
"encoding":{"x":{"field":"M","type":"quantitative","scale":{"domain":[-16.5,-24.5],"nice":false,"zero":false},"axis":{"orient":"top","values":[-16.6,-16.8,-17,-17.2,-17.4,-17.6,-17.8,-18,-18.2,-18.4,-18.6,-18.8,-19,-19.2,-19.4,-19.6,-19.8,-20,-20.2,-20.4,-20.6,-20.8,-21,-21.2,-21.4,-21.6,-21.8,-22,-22.2,-22.4,-22.6,-22.8,-23,-23.2,-23.4,-23.6,-23.8,-24,-24.2,-24.4],"labels":false,"title":null,"tickSize":{"condition":{"test":"abs(datum.value-round(datum.value))<0.01","value":-5},"value":-2.5},"zindex":1}},"x2":{"field":"Mhi"},
"y":{"field":"v","type":"quantitative","scale":{"domain":[-8,-2],"nice":false,"zero":false},"axis":{"orient":"right","values":[-2,-2.2,-2.4,-2.6,-2.8,-3,-3.2,-3.4,-3.6,-3.8,-4,-4.2,-4.4,-4.6,-4.8,-5,-5.2,-5.4,-5.6,-5.8,-6,-6.2,-6.4,-6.6,-6.8,-7,-7.2,-7.4,-7.6,-7.8],"labels":false,"title":null,"tickSize":{"condition":{"test":"abs(datum.value-round(datum.value))<0.01","value":-5},"value":-2.5},"zindex":1}},"y2":{"field":"vlo"}}},
{"transform":[{"filter":"datum.t=='f'"}],"mark":{"type":"line","strokeDash":[5,3],"strokeWidth":1.4,"opacity":0.6,"clip":true},
"encoding":{"x":{"field":"M","type":"quantitative","scale":{"domain":[-16.5,-24.5],"nice":false,"zero":false},"axis":{"orient":"bottom","values":[-16.6,-16.8,-17,-17.2,-17.4,-17.6,-17.8,-18,-18.2,-18.4,-18.6,-18.8,-19,-19.2,-19.4,-19.6,-19.8,-20,-20.2,-20.4,-20.6,-20.8,-21,-21.2,-21.4,-21.6,-21.8,-22,-22.2,-22.4,-22.6,-22.8,-23,-23.2,-23.4,-23.6,-23.8,-24,-24.2,-24.4],"labelExpr":"abs(datum.value-round(datum.value))<0.01 ? format(round(datum.value),'d') : ''","title":"MUV","titlePadding":-3,"tickSize":{"condition":{"test":"abs(datum.value-round(datum.value))<0.01","value":-5},"value":-2.5},"zindex":1}},
"y":{"field":"v","type":"quantitative","scale":{"domain":[-8,-2],"nice":false,"zero":false},"axis":{"orient":"left","values":[-2,-2.2,-2.4,-2.6,-2.8,-3,-3.2,-3.4,-3.6,-3.8,-4,-4.2,-4.4,-4.6,-4.8,-5,-5.2,-5.4,-5.6,-5.8,-6,-6.2,-6.4,-6.6,-6.8,-7,-7.2,-7.4,-7.6,-7.8],"labelExpr":"abs(datum.value-round(datum.value))<0.01 ? format(round(datum.value),'d') : ''","title":"log₁₀(Φ [cMpc⁻³ mag⁻¹])","tickSize":{"condition":{"test":"abs(datum.value-round(datum.value))<0.01","value":-5},"value":-2.5},"zindex":1}},
"color":{"field":"k","type":"nominal","scale":{"domain":["g","s","gd","R","B"],"range":["#8c8c8c","#000000","#555555","#dc2846","#4a6ee0"]},"legend":null}}},
{"transform":[{"filter":"datum.t=='p' && isValid(datum.vlo)"}],"mark":{"type":"rule","strokeWidth":1.2,"opacity":0.8,"clip":true},
"encoding":{"x":{"field":"M","type":"quantitative","axis":null},"y":{"field":"vlo","type":"quantitative","axis":null},"y2":{"field":"vhi"},"color":{"field":"k","type":"nominal","scale":{"domain":["g","s","gd","R","B"],"range":["#8c8c8c","#000000","#555555","#dc2846","#4a6ee0"]},"legend":null}}},
{"transform":[{"filter":"datum.t=='p' && isValid(datum.vlo)"},{"fold":["vlo","vhi"],"as":["ck","cv"]}],"mark":{"type":"tick","orient":"horizontal","size":5,"thickness":1.2,"opacity":0.8,"clip":true},
"encoding":{"x":{"field":"M","type":"quantitative","axis":null},"y":{"field":"cv","type":"quantitative","axis":null},"color":{"field":"k","type":"nominal","scale":{"domain":["g","s","gd","R","B"],"range":["#8c8c8c","#000000","#555555","#dc2846","#4a6ee0"]},"legend":null}}},
{"transform":[{"filter":"datum.t=='p' && isValid(datum.Mlo)"}],"mark":{"type":"rule","strokeWidth":1.2,"opacity":0.8,"clip":true},
"encoding":{"x":{"field":"Mlo","type":"quantitative","axis":null},"x2":{"field":"Mhi"},"y":{"field":"v","type":"quantitative","axis":null},"color":{"field":"k","type":"nominal","scale":{"domain":["g","s","gd","R","B"],"range":["#8c8c8c","#000000","#555555","#dc2846","#4a6ee0"]},"legend":null}}},
{"transform":[{"filter":"datum.t=='p' && isValid(datum.Mlo)"},{"fold":["Mlo","Mhi"],"as":["ck","cv"]}],"mark":{"type":"tick","orient":"vertical","size":5,"thickness":1.2,"opacity":0.8,"clip":true},
"encoding":{"x":{"field":"cv","type":"quantitative","axis":null},"y":{"field":"v","type":"quantitative","axis":null},"color":{"field":"k","type":"nominal","scale":{"domain":["g","s","gd","R","B"],"range":["#8c8c8c","#000000","#555555","#dc2846","#4a6ee0"]},"legend":null}}},
{"transform":[{"filter":"datum.t=='p' && isValid(datum.ae)"}],"mark":{"type":"rule","strokeWidth":1.2,"clip":true},
"encoding":{"x":{"field":"M","type":"quantitative","axis":null},"y":{"field":"v","type":"quantitative","axis":null},"y2":{"field":"ae"},"color":{"field":"k","type":"nominal","scale":{"domain":["g","s","gd","R","B"],"range":["#8c8c8c","#000000","#555555","#dc2846","#4a6ee0"]},"legend":null}}},
{"transform":[{"filter":"datum.t=='p' && isValid(datum.ae)"}],"mark":{"type":"point","filled":true,"size":28,"opacity":1,"clip":true},
"encoding":{"x":{"field":"M","type":"quantitative","axis":null},"y":{"field":"ae","type":"quantitative","axis":null},"color":{"field":"k","type":"nominal","scale":{"domain":["g","s","gd","R","B"],"range":["#8c8c8c","#000000","#555555","#dc2846","#4a6ee0"]},"legend":null},"shape":{"field":"lim","type":"nominal","scale":{"domain":["u","l"],"range":["triangle-down","triangle-up"]},"legend":null}}},
{"transform":[{"filter":"datum.t=='p' && (datum.k=='R'||datum.k=='B') && !isValid(datum.lim)"}],"mark":{"type":"line","strokeWidth":1.3},
"encoding":{"x":{"field":"M","type":"quantitative","axis":null},"y":{"field":"v","type":"quantitative","axis":null},"color":{"field":"k","type":"nominal","scale":{"domain":["g","s","gd","R","B"],"range":["#8c8c8c","#000000","#555555","#dc2846","#4a6ee0"]},"legend":null}}},
{"transform":[{"filter":"datum.t=='p' && (datum.k=='g'||datum.k=='s'||datum.k=='gd')"}],"mark":{"type":"point","shape":"square","filled":true,"size":40,"strokeWidth":1.2,"opacity":1},
"encoding":{"x":{"field":"M","type":"quantitative","axis":null},"y":{"field":"v","type":"quantitative","axis":null},
"fill":{"field":"k","type":"nominal","scale":{"domain":["g","s","gd"],"range":["#ffffff","#000000","#555555"]},"legend":{"title":null,"orient":"none","legendX":13,"legendY":167,"padding":0,"values":["g","s"],"symbolType":"square","symbolSize":45,"symbolStrokeWidth":1.2,"labelExpr":"datum.value=='g' ? ['JWST photo z','\u00a0\u00a0+ pre JWST'] : 'JWST spec z'","labelFontSize":15,"labelOffset":7,"rowPadding":-4}},
"stroke":{"field":"k","type":"nominal","scale":{"domain":["g","s","gd"],"range":["#8c8c8c","#000000","#555555"]},"legend":{"title":null,"orient":"none","legendX":13,"legendY":167,"padding":0,"values":["g","s"],"symbolType":"square","symbolSize":45,"symbolStrokeWidth":1.2,"labelExpr":"datum.value=='g' ? ['JWST photo z','\u00a0\u00a0+ pre JWST'] : 'JWST spec z'","labelFontSize":15,"labelOffset":7,"rowPadding":-4}}}},
{"transform":[{"filter":"datum.t=='p' && (datum.k=='R'||datum.k=='B')"}],"mark":{"type":"point","shape":"circle","filled":true,"size":80,"strokeWidth":1.5,"opacity":1},
"encoding":{"x":{"field":"M","type":"quantitative","axis":null},"y":{"field":"v","type":"quantitative","axis":null},
"fill":{"field":"k","type":"nominal","scale":{"domain":["R","B"],"range":["#dc2846","#4a6ee0"]},"legend":null},
"stroke":{"field":"k","type":"nominal","scale":{"domain":["R","B"],"range":["#dc2846","#4a6ee0"]},"legend":null}}}
]},
{"width":292,"height":223,
"title":{"text":"z ≃ 14","anchor":"end","frame":"group","offset":-45,"dx":-22,"baseline":"alphabetic","fontSize":15,"fontStyle":"italic","fontWeight":"normal","color":"#000"},
"transform":[{"filter":"datum.p==14"}],
"resolve":{"axis":{"x":"independent","y":"independent"},"scale":{"fill":"independent","stroke":"independent"}},
"layer":[
{"transform":[{"filter":"datum.t=='sh'"}],"mark":{"type":"rect","color":"#e8e8e8"},
"encoding":{"x":{"field":"M","type":"quantitative","scale":{"domain":[-16.5,-24.5],"nice":false,"zero":false},"axis":{"orient":"top","values":[-16.6,-16.8,-17,-17.2,-17.4,-17.6,-17.8,-18,-18.2,-18.4,-18.6,-18.8,-19,-19.2,-19.4,-19.6,-19.8,-20,-20.2,-20.4,-20.6,-20.8,-21,-21.2,-21.4,-21.6,-21.8,-22,-22.2,-22.4,-22.6,-22.8,-23,-23.2,-23.4,-23.6,-23.8,-24,-24.2,-24.4],"labels":false,"title":null,"tickSize":{"condition":{"test":"abs(datum.value-round(datum.value))<0.01","value":-5},"value":-2.5},"zindex":1}},"x2":{"field":"Mhi"},
"y":{"field":"v","type":"quantitative","scale":{"domain":[-8,-2],"nice":false,"zero":false},"axis":{"orient":"right","values":[-2,-2.2,-2.4,-2.6,-2.8,-3,-3.2,-3.4,-3.6,-3.8,-4,-4.2,-4.4,-4.6,-4.8,-5,-5.2,-5.4,-5.6,-5.8,-6,-6.2,-6.4,-6.6,-6.8,-7,-7.2,-7.4,-7.6,-7.8],"labels":false,"title":null,"tickSize":{"condition":{"test":"abs(datum.value-round(datum.value))<0.01","value":-5},"value":-2.5},"zindex":1}},"y2":{"field":"vlo"}}},
{"transform":[{"filter":"datum.t=='f'"}],"mark":{"type":"line","strokeDash":[5,3],"strokeWidth":1.4,"opacity":0.6,"clip":true},
"encoding":{"x":{"field":"M","type":"quantitative","scale":{"domain":[-16.5,-24.5],"nice":false,"zero":false},"axis":{"orient":"bottom","values":[-16.6,-16.8,-17,-17.2,-17.4,-17.6,-17.8,-18,-18.2,-18.4,-18.6,-18.8,-19,-19.2,-19.4,-19.6,-19.8,-20,-20.2,-20.4,-20.6,-20.8,-21,-21.2,-21.4,-21.6,-21.8,-22,-22.2,-22.4,-22.6,-22.8,-23,-23.2,-23.4,-23.6,-23.8,-24,-24.2,-24.4],"labelExpr":"abs(datum.value-round(datum.value))<0.01 ? format(round(datum.value),'d') : ''","title":"MUV","titlePadding":-3,"tickSize":{"condition":{"test":"abs(datum.value-round(datum.value))<0.01","value":-5},"value":-2.5},"zindex":1}},
"y":{"field":"v","type":"quantitative","scale":{"domain":[-8,-2],"nice":false,"zero":false},"axis":{"orient":"left","values":[-2,-2.2,-2.4,-2.6,-2.8,-3,-3.2,-3.4,-3.6,-3.8,-4,-4.2,-4.4,-4.6,-4.8,-5,-5.2,-5.4,-5.6,-5.8,-6,-6.2,-6.4,-6.6,-6.8,-7,-7.2,-7.4,-7.6,-7.8],"labelExpr":"abs(datum.value-round(datum.value))<0.01 ? format(round(datum.value),'d') : ''","title":"log₁₀(Φ [cMpc⁻³ mag⁻¹])","tickSize":{"condition":{"test":"abs(datum.value-round(datum.value))<0.01","value":-5},"value":-2.5},"zindex":1}},
"color":{"field":"k","type":"nominal","scale":{"domain":["g","s","gd","R","B"],"range":["#8c8c8c","#000000","#555555","#dc2846","#4a6ee0"]},"legend":null}}},
{"transform":[{"filter":"datum.t=='p' && isValid(datum.vlo)"}],"mark":{"type":"rule","strokeWidth":1.2,"opacity":0.8,"clip":true},
"encoding":{"x":{"field":"M","type":"quantitative","axis":null},"y":{"field":"vlo","type":"quantitative","axis":null},"y2":{"field":"vhi"},"color":{"field":"k","type":"nominal","scale":{"domain":["g","s","gd","R","B"],"range":["#8c8c8c","#000000","#555555","#dc2846","#4a6ee0"]},"legend":null}}},
{"transform":[{"filter":"datum.t=='p' && isValid(datum.vlo)"},{"fold":["vlo","vhi"],"as":["ck","cv"]}],"mark":{"type":"tick","orient":"horizontal","size":5,"thickness":1.2,"opacity":0.8,"clip":true},
"encoding":{"x":{"field":"M","type":"quantitative","axis":null},"y":{"field":"cv","type":"quantitative","axis":null},"color":{"field":"k","type":"nominal","scale":{"domain":["g","s","gd","R","B"],"range":["#8c8c8c","#000000","#555555","#dc2846","#4a6ee0"]},"legend":null}}},
{"transform":[{"filter":"datum.t=='p' && isValid(datum.Mlo)"}],"mark":{"type":"rule","strokeWidth":1.2,"opacity":0.8,"clip":true},
"encoding":{"x":{"field":"Mlo","type":"quantitative","axis":null},"x2":{"field":"Mhi"},"y":{"field":"v","type":"quantitative","axis":null},"color":{"field":"k","type":"nominal","scale":{"domain":["g","s","gd","R","B"],"range":["#8c8c8c","#000000","#555555","#dc2846","#4a6ee0"]},"legend":null}}},
{"transform":[{"filter":"datum.t=='p' && isValid(datum.Mlo)"},{"fold":["Mlo","Mhi"],"as":["ck","cv"]}],"mark":{"type":"tick","orient":"vertical","size":5,"thickness":1.2,"opacity":0.8,"clip":true},
"encoding":{"x":{"field":"cv","type":"quantitative","axis":null},"y":{"field":"v","type":"quantitative","axis":null},"color":{"field":"k","type":"nominal","scale":{"domain":["g","s","gd","R","B"],"range":["#8c8c8c","#000000","#555555","#dc2846","#4a6ee0"]},"legend":null}}},
{"transform":[{"filter":"datum.t=='p' && isValid(datum.ae)"}],"mark":{"type":"rule","strokeWidth":1.2,"clip":true},
"encoding":{"x":{"field":"M","type":"quantitative","axis":null},"y":{"field":"v","type":"quantitative","axis":null},"y2":{"field":"ae"},"color":{"field":"k","type":"nominal","scale":{"domain":["g","s","gd","R","B"],"range":["#8c8c8c","#000000","#555555","#dc2846","#4a6ee0"]},"legend":null}}},
{"transform":[{"filter":"datum.t=='p' && isValid(datum.ae)"}],"mark":{"type":"point","filled":true,"size":28,"opacity":1,"clip":true},
"encoding":{"x":{"field":"M","type":"quantitative","axis":null},"y":{"field":"ae","type":"quantitative","axis":null},"color":{"field":"k","type":"nominal","scale":{"domain":["g","s","gd","R","B"],"range":["#8c8c8c","#000000","#555555","#dc2846","#4a6ee0"]},"legend":null},"shape":{"field":"lim","type":"nominal","scale":{"domain":["u","l"],"range":["triangle-down","triangle-up"]},"legend":null}}},
{"transform":[{"filter":"datum.t=='p' && (datum.k=='R'||datum.k=='B') && !isValid(datum.lim)"}],"mark":{"type":"line","strokeWidth":1.3},
"encoding":{"x":{"field":"M","type":"quantitative","axis":null},"y":{"field":"v","type":"quantitative","axis":null},"color":{"field":"k","type":"nominal","scale":{"domain":["g","s","gd","R","B"],"range":["#8c8c8c","#000000","#555555","#dc2846","#4a6ee0"]},"legend":null}}},
{"transform":[{"filter":"datum.t=='p' && (datum.k=='g'||datum.k=='s'||datum.k=='gd')"}],"mark":{"type":"point","shape":"square","filled":true,"size":40,"strokeWidth":1.2,"opacity":1},
"encoding":{"x":{"field":"M","type":"quantitative","axis":null},"y":{"field":"v","type":"quantitative","axis":null},"fill":{"field":"k","type":"nominal","scale":{"domain":["g","s","gd"],"range":["#ffffff","#000000","#555555"]},"legend":null},"stroke":{"field":"k","type":"nominal","scale":{"domain":["g","s","gd"],"range":["#8c8c8c","#000000","#555555"]},"legend":null}}},
{"transform":[{"filter":"datum.t=='p' && (datum.k=='R'||datum.k=='B')"}],"mark":{"type":"point","shape":"circle","filled":true,"size":80,"strokeWidth":1.5,"opacity":1},
"encoding":{"x":{"field":"M","type":"quantitative","axis":null},"y":{"field":"v","type":"quantitative","axis":null},
"fill":{"field":"k","type":"nominal","scale":{"domain":["R","B"],"range":["#dc2846","#4a6ee0"]},"legend":null},
"stroke":{"field":"k","type":"nominal","scale":{"domain":["R","B"],"range":["#dc2846","#4a6ee0"]},"legend":null}}}
]}
],
"config":{
"font":"Liberation Serif",
"view":{"stroke":null},
"title":{"fontWeight":"normal","font":"Liberation Serif","color":"#000"},
"axis":{"grid":false,"domainColor":"#000","domainWidth":1,"tickColor":"#000","tickWidth":0.8,"labelFont":"Liberation Serif","labelFontSize":12.5,"labelColor":"#000","labelPadding":8,"titleFont":"Liberation Serif","titleFontSize":15,"titleFontWeight":"normal","titleColor":"#000","titlePadding":2,"labelOverlap":false,"labelFlush":false},
"legend":{"labelColor":"#000","labelFont":"Liberation Serif"}
}
}
